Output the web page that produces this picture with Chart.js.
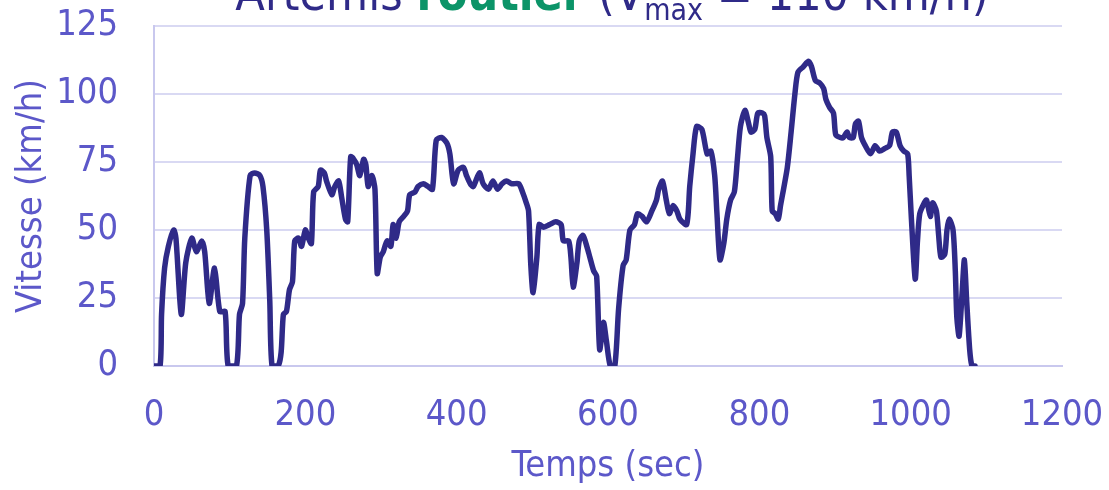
<!DOCTYPE html>
<html>
<head>
<meta charset="utf-8">
<script src="https://cdn.jsdelivr.net/npm/chart.js@4.4.1/dist/chart.umd.min.js"></script>
<style>
  html, body { margin: 0; padding: 0; background: #ffffff; }
  #wrap { width: 1109px; height: 490px; }
</style>
</head>
<body>
<div id="wrap"><canvas id="graficoArtemis" width="1109" height="490"></canvas></div>
<script>
// cycle Artemis routier : temps (s) / vitesse (km/h)
const temps = [
  0, 8, 10, 14, 19, 26, 29, 36, 42, 50, 56, 63, 67, 73, 80, 87, 94, 98, 109, 113,
  117, 120, 127, 133, 140, 144, 149, 153, 156, 164, 168, 171, 175, 179, 183, 186, 191, 195, 200, 204,
  208, 211, 217, 220, 225, 228, 235, 239, 244, 248, 253, 256, 260, 264, 268, 272, 277, 280, 283, 288,
  292, 295, 299, 303, 308, 313, 316, 320, 324, 330, 335, 338, 345, 349, 356, 362, 368, 373, 380, 387,
  391, 396, 402, 409, 413, 418, 422, 430, 435, 442, 448, 454, 460, 466, 473, 482, 487, 492, 495, 498,
  501, 506, 509, 515, 523, 531, 538, 541, 548, 551, 554, 559, 562, 567, 572, 576, 581, 585, 589, 594,
  598, 603, 609, 614, 620, 624, 629, 635, 639, 645, 651, 658, 664, 667, 672, 677, 681, 686, 691, 695,
  704, 708, 712, 717, 724, 731, 736, 741, 744, 748, 753, 757, 762, 767, 771, 775, 781, 786, 789, 794,
  798, 804, 807, 810, 815, 817, 821, 825, 828, 832, 837, 842, 847, 851, 858, 865, 869, 874, 880, 885,
  888, 893, 898, 901, 907, 911, 916, 919, 924, 927, 931, 935, 940, 947, 953, 959, 966, 972, 976, 981,
  986, 991, 996, 998, 1001, 1006, 1009, 1012, 1018, 1021, 1026, 1029, 1034, 1037, 1040, 1045, 1048, 1051, 1056, 1059,
  1061, 1064, 1068, 1071, 1074, 1078, 1081, 1085
];
const vitesse = [
  0, 0, 19, 36, 44, 50, 47, 19, 38, 47, 42, 46, 42, 23, 36, 20, 20, 0, 0, 19,
  23, 47, 70, 71, 70, 66, 50, 24, 0, 0, 5, 19, 20, 28, 31, 46, 47, 44, 50, 47,
  45, 64, 66, 72, 71, 68, 63, 66, 68, 62, 54, 53, 77, 76, 74, 70, 76, 74, 66, 70,
  65, 34, 40, 42, 46, 44, 52, 47, 53, 55, 57, 63, 64, 66, 67, 66, 65, 83, 84, 82,
  78, 67, 72, 73, 70, 67, 66, 71, 67, 65, 68, 65, 67, 68, 67, 67, 64, 60, 57, 37,
  27, 40, 52, 51, 52, 53, 52, 46, 46, 40, 29, 38, 46, 48, 44, 40, 35, 33, 6, 16,
  9, 0, 0, 21, 37, 39, 50, 52, 56, 55, 53, 57, 61, 65, 68, 61, 56, 59, 57, 54,
  52, 66, 77, 88, 87, 78, 79, 70, 56, 39, 45, 54, 61, 64, 76, 88, 94, 89, 86, 87,
  93, 93, 92, 84, 77, 57, 56, 54, 59, 65, 73, 86, 100, 108, 110, 112, 110, 105, 104, 102,
  98, 95, 93, 85, 84, 84, 86, 84, 84, 89, 90, 84, 81, 78, 81, 79, 80, 81, 86, 86,
  81, 79, 78, 70, 54, 32, 46, 56, 60, 61, 55, 60, 57, 48, 40, 41, 50, 54, 50, 35,
  18, 11, 27, 39, 24, 6, 0, 0
];
const ticksX = [0, 200, 400, 600, 800, 1000, 1200];
const ticksY = [0, 25, 50, 75, 100, 125];

// morceaux du titre (le 4e est en indice)
const titreMorceaux = ['Artemis ', 'routier', ' (V', 'max', ' = 110 km/h)'];

const POLICE = '"DejaVu Sans Condensed", "DejaVu Sans", sans-serif';
const bleuFonce = '#2f2a88';
const bleuTexte = '#5c58c9';
const vert = '#0b9468';

const points = temps.map((t, i) => ({ x: t, y: vitesse[i] }));

// titre dessiné à la main, il dépasse du haut de l'image
const titrePlugin = {
  id: 'titreArtemis',
  afterDraw(chart) {
    const c = chart.ctx;
    const styles = [
      { font: '48px ' + POLICE, color: bleuFonce, dy: 0 },
      { font: 'bold 48px ' + POLICE, color: vert, dy: 0 },
      { font: '48px ' + POLICE, color: bleuFonce, dy: 0 },
      { font: '30px ' + POLICE, color: bleuFonce, dy: 10 },
      { font: '48px ' + POLICE, color: bleuFonce, dy: 0 }
    ];
    c.save();
    c.textBaseline = 'alphabetic';
    c.textAlign = 'left';
    let total = 0;
    titreMorceaux.forEach((txt, i) => {
      c.font = styles[i].font;
      total += c.measureText(txt).width;
    });
    const area = chart.chartArea;
    let x = (area.left + area.right) / 2 + 4 - total / 2;
    titreMorceaux.forEach((txt, i) => {
      c.font = styles[i].font;
      c.fillStyle = styles[i].color;
      c.fillText(txt, x, 10 + styles[i].dy);
      x += c.measureText(txt).width;
    });
    c.restore();
  }
};

const ctx = document.getElementById('graficoArtemis').getContext('2d');
new Chart(ctx, {
  type: 'line',
  data: {
    datasets: [{
      label: 'Vitesse',
      data: points,
      borderColor: bleuFonce,
      borderWidth: 5.5,
      borderCapStyle: 'round',
      borderJoinStyle: 'round',
      pointRadius: 0,
      tension: 0.25,
      fill: false
    }]
  },
  options: {
    responsive: false,
    animation: false,
    layout: { padding: { top: 26, right: 47, left: 0, bottom: 0 } },
    plugins: {
      legend: { display: false },
      tooltip: { enabled: false }
    },
    scales: {
      x: {
        type: 'linear',
        min: 0,
        max: 1200,
        afterBuildTicks: s => { s.ticks = ticksX.map(v => ({ value: v })); },
        afterFit: s => {
          s.height = 124;
          s.paddingLeft = 0;
          s.paddingRight = 0;
        },
        grid: { display: false, drawTicks: false },
        border: { display: true, color: '#c9c8ee', width: 2 },
        ticks: {
          color: bleuTexte,
          font: { family: POLICE, size: 36 },
          padding: 28,
          maxRotation: 0,
          callback: v => String(v)
        },
        title: {
          display: true,
          text: 'Temps (sec)',
          color: bleuTexte,
          font: { family: POLICE, size: 36 },
          padding: { top: 0, bottom: 2 }
        }
      },
      y: {
        min: 0,
        max: 125,
        afterBuildTicks: s => { s.ticks = ticksY.map(v => ({ value: v })); },
        afterFit: s => {
          s.width = 154;
          s.paddingTop = 0;
          s.paddingBottom = 0;
        },
        grid: { color: '#d9d9f3', lineWidth: 2, drawTicks: false },
        border: { display: true, color: '#c9c8ee', width: 2 },
        ticks: { color: bleuTexte, font: { family: POLICE, size: 36 }, padding: 36 },
        title: {
          display: true,
          text: 'Vitesse (km/h)',
          color: bleuTexte,
          font: { family: POLICE, size: 36 },
          padding: { top: 10, bottom: 0 }
        }
      }
    }
  },
  plugins: [titrePlugin]
});
</script>
</body>
</html>
